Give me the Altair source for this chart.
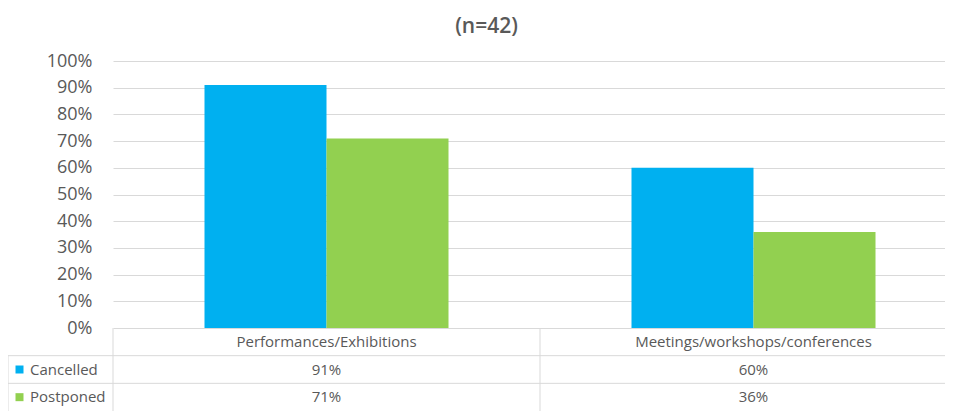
import altair as alt
import pandas as pd

categories = ["Performances/Exhibitions", "Meetings/workshops/conferences"]
series = ["Cancelled", "Postponed"]
cancelled = [0.91, 0.60]
postponed = [0.71, 0.36]
colors = ["#00B0F0", "#92D050"]
table_rows = ["Category", "Cancelled", "Postponed"]
y_ticks = [0.0, 0.1, 0.2, 0.3, 0.4, 0.5, 0.6, 0.7, 0.8, 0.9, 1.0]

TEXT = "#595959"
GRID = "#D9D9D9"
FONT = "Open Sans"

bars_df = pd.DataFrame({
    "category": categories * 2,
    "series": [s for s in series for _ in categories],
    "value": cancelled + postponed,
})

table_records = [{"category": c, "row": "Category", "text": c} for c in categories]
for s, vals in zip(series, [cancelled, postponed]):
    for c, v in zip(categories, vals):
        table_records.append({"category": c, "row": s, "text": f"{round(v * 100)}%"})
table_df = pd.DataFrame(table_records)

legend_df = pd.DataFrame({"row": series, "color": colors})
cat_df = pd.DataFrame({"category": categories})
first_row_df = pd.DataFrame({"row": [series[0]]})

x_scale = alt.Scale(domain=categories, range=[0, 854], paddingInner=0, paddingOuter=0)
table_y = alt.Scale(domain=table_rows, range=[267, 350], paddingInner=0, paddingOuter=0)

bars = alt.Chart(bars_df).mark_bar().encode(
    x=alt.X("category:N", scale=x_scale, axis=None),
    xOffset=alt.XOffset("series:N", scale=alt.Scale(domain=series, paddingInner=0, paddingOuter=0.75)),
    y=alt.Y(
        "value:Q",
        scale=alt.Scale(domain=[0, 1], range=[267, 0], nice=False),
        axis=alt.Axis(
            values=y_ticks, format=".0%", grid=True, gridColor=GRID, gridWidth=1,
            ticks=False, tickSize=0, domain=False, labelPadding=21, labelFontSize=18,
            labelColor=TEXT, labelFont=FONT, title=None,
        ),
    ),
    color=alt.Color("series:N", scale=alt.Scale(domain=series, range=colors), legend=None),
)

texts = alt.Chart(table_df).mark_text(fontSize=15, color=TEXT, font=FONT).encode(
    x=alt.X("category:N", scale=x_scale, axis=None),
    y=alt.Y("row:N", scale=table_y, axis=None),
    text="text:N",
)

leg_text = alt.Chart(legend_df).mark_text(align="left", fontSize=15, color=TEXT, font=FONT).encode(
    x=alt.value(-83),
    y=alt.Y("row:N", scale=table_y, axis=None),
    text="row:N",
)

leg_sq = alt.Chart(legend_df).mark_square(size=64, opacity=1).encode(
    x=alt.value(-93.5),
    y=alt.Y("row:N", scale=table_y, axis=None),
    color=alt.Color("color:N", scale=None),
)

hlines = alt.Chart(legend_df).mark_rule(color=GRID, strokeWidth=1).encode(
    y=alt.Y("row:N", scale=table_y, axis=None, bandPosition=0),
    x=alt.value(-105),
    x2=alt.value(854),
)

vlines = alt.Chart(cat_df).mark_rule(color=GRID, strokeWidth=1).encode(
    x=alt.X("category:N", scale=x_scale, axis=None, bandPosition=0),
    y=alt.value(267),
    y2=alt.value(350),
)

left_border = alt.Chart(first_row_df).mark_rule(color=GRID, strokeWidth=1).encode(
    y=alt.Y("row:N", scale=table_y, axis=None, bandPosition=0),
    y2=alt.value(350),
    x=alt.value(-105),
)

chart = alt.layer(
    hlines, vlines, left_border, bars, texts, leg_sq, leg_text
).resolve_scale(
    y="independent"
).properties(
    width=832,
    height=350,
    padding={"left": 105, "top": 53, "right": 0, "bottom": 0},
    autosize=alt.AutoSizeParams(type="none"),
    background="white",
    title=alt.TitleParams(
        "(n=42)", fontSize=21, color=TEXT, font=FONT, fontWeight=600,
        offset=15, dx=-42.5, frame="group", anchor="middle",
    ),
).configure_view(stroke=None)

chart.save("out.html", embed_options={"renderer": "svg", "actions": False})
